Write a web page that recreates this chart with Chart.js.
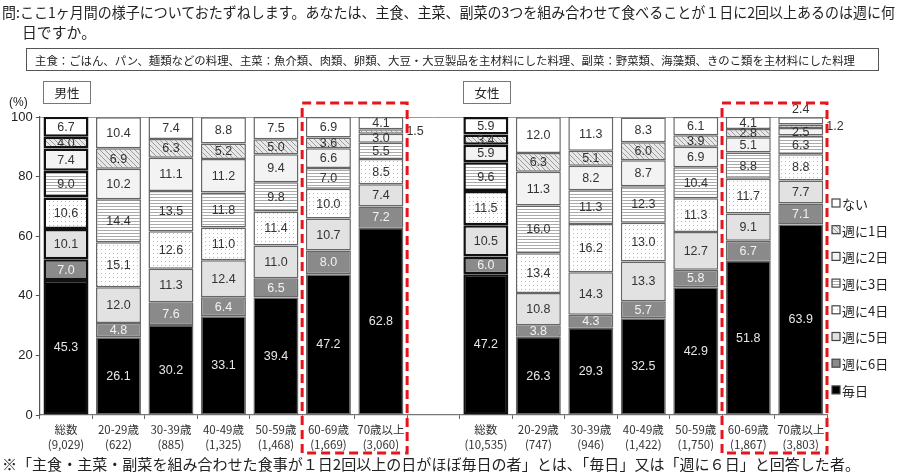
<!DOCTYPE html>
<html>
<head>
<meta charset="utf-8">
<script src="https://cdn.jsdelivr.net/npm/chart.js@4"></script>
<style>
  body { margin: 0; width: 900px; height: 475px; background: #fff; position: relative; overflow: hidden;
         font-family: "Noto Sans CJK JP", "Noto Sans", sans-serif; color: #222; }
  #chart { position: absolute; left: 0; top: 0; }
  .fit { position: absolute; white-space: nowrap; transform-origin: 0 0; }
  .q1 { left: 2px; top: 1px; font-size: 14.5px; }
  .q2 { left: 22px; top: 21px; font-size: 14.5px; }
  .note { position: absolute; left: 26px; top: 48px; width: 853px; height: 23px; border: 1px solid #555; box-sizing: border-box; }
  .note span { left: 8px; top: 3px; font-size: 11px; }
  .sex { position: absolute; top: 81px; width: 48px; height: 23px; border: 1px solid #777; box-sizing: border-box;
         font-size: 12.5px; text-align: center; line-height: 21px; }
  .pct { position: absolute; left: 9px; top: 95px; font-size: 12px; font-family: "Liberation Sans", sans-serif; }
  .foot { left: 2px; top: 453px; font-size: 15px; }
</style>
</head>
<body>
<canvas id="chart" width="900" height="475"></canvas>
<span class="fit q1" data-w="893">問:ここ1ヶ月間の様子についておたずねします。あなたは、主食、主菜、副菜の3つを組み合わせて食べることが１日に2回以上あるのは週に何</span>
<span class="fit q2" data-w="74">日ですか。</span>
<div class="note"><span class="fit" data-w="820">主食：ごはん、パン、麺類などの料理、主菜：魚介類、肉類、卵類、大豆・大豆製品を主材料にした料理、副菜：野菜類、海藻類、きのこ類を主材料にした料理</span></div>
<div class="sex" style="left:43px">男性</div>
<div class="sex" style="left:463px">女性</div>
<div class="pct">(%)</div>
<span class="fit foot" data-w="858">※「主食・主菜・副菜を組み合わせた食事が１日2回以上の日がほぼ毎日の者」とは、「毎日」又は「週に６日」と回答した者。</span>
<script>
// categories: male 7 groups, an empty gap slot, female 7 groups
const categories = [
  ['総数', '(9,029)'], ['20-29歳', '(622)'], ['30-39歳', '(885)'], ['40-49歳', '(1,325)'],
  ['50-59歳', '(1,468)'], ['60-69歳', '(1,669)'], ['70歳以上', '(3,060)'],
  '',
  ['総数', '(10,535)'], ['20-29歳', '(747)'], ['30-39歳', '(946)'], ['40-49歳', '(1,422)'],
  ['50-59歳', '(1,750)'], ['60-69歳', '(1,867)'], ['70歳以上', '(3,803)'],
];
const seriesNames = ['毎日', '週に6日', '週に5日', '週に4日', '週に3日', '週に2日', '週に1日', 'ない'];
const everyDay  = [45.3, 26.1, 30.2, 33.1, 39.4, 47.2, 62.8, null, 47.2, 26.3, 29.3, 32.5, 42.9, 51.8, 63.9];
const sixDays   = [7.0, 4.8, 7.6, 6.4, 6.5, 8.0, 7.2, null, 6.0, 3.8, 4.3, 5.7, 5.8, 6.7, 7.1];
const fiveDays  = [10.1, 12.0, 11.3, 12.4, 11.0, 10.7, 7.4, null, 10.5, 10.8, 14.3, 13.3, 12.7, 9.1, 7.7];
const fourDays  = [10.6, 15.1, 12.6, 11.0, 11.4, 10.0, 8.5, null, 11.5, 13.4, 16.2, 13.0, 11.3, 11.7, 8.8];
const threeDays = [9.0, 14.4, 13.5, 11.8, 9.8, 7.0, 5.5, null, 9.6, 16.0, 11.3, 12.3, 10.4, 8.8, 6.3];
const twoDays   = [7.4, 10.2, 11.1, 11.2, 9.4, 6.6, 3.0, null, 5.9, 11.3, 8.2, 8.7, 6.9, 5.1, 2.5];
const oneDay    = [4.0, 6.9, 6.3, 5.2, 5.0, 3.6, 1.5, null, 3.4, 6.3, 5.1, 6.0, 3.9, 2.8, 1.2];
const never     = [6.7, 10.4, 7.4, 8.8, 7.5, 6.9, 4.1, null, 5.9, 12.0, 11.3, 8.3, 6.1, 4.1, 2.4];
const yTicks = [0, 20, 40, 60, 80, 100];
const totalIdx = [0, 8];
const highlightGroups = [[5, 6], [13, 14]];

// fit header texts to their widths
document.querySelectorAll('.fit').forEach((el) => {
  const w = el.getBoundingClientRect().width;
  el.style.transform = `scaleX(${el.dataset.w / w})`;
});

function pattern(bg, size, draw) {
  const c = document.createElement('canvas');
  c.width = size; c.height = size;
  const g = c.getContext('2d');
  g.fillStyle = bg;
  g.fillRect(0, 0, size, size);
  draw(g);
  return g.createPattern(c, 'repeat');
}
const dots = pattern('#fff', 4, (g) => { g.fillStyle = '#b8b8b8'; g.fillRect(1, 1, 1, 1); });
const hLines = pattern('#fff', 3, (g) => { g.fillStyle = '#aaa'; g.fillRect(0, 2, 3, 1); });
const diag = pattern('#e8e8e8', 5, (g) => {
  g.strokeStyle = '#9a9a9a'; g.lineWidth = 1;
  g.beginPath(); g.moveTo(-1, -1); g.lineTo(6, 6); g.stroke();
});

const series = [everyDay, sixDays, fiveDays, fourDays, threeDays, twoDays, oneDay, never];
const fills = ['#000', '#8a8a8a', '#e2e2e2', dots, hLines, '#f3f3f3', diag, '#fff'];
const textColors = ['#e6e6e6', '#f2f2f2', '#333', '#333', '#333', '#333', '#333', '#333'];

const datasets = series.map((data, i) => ({
  label: seriesNames[i],
  data,
  backgroundColor: fills[i],
  borderColor: (c) => (totalIdx.includes(c.dataIndex) ? '#111' : '#666'),
  borderWidth: (c) => (totalIdx.includes(c.dataIndex) ? 2.5 : 1.5),
  borderSkipped: false,
  barPercentage: 0.857,
  categoryPercentage: 1,
}));

const valueLabels = {
  id: 'valueLabels',
  afterDatasetsDraw(chart) {
    const { ctx } = chart;
    ctx.save();
    ctx.font = '12.5px "Liberation Sans", Arial, sans-serif';
    ctx.textBaseline = 'middle';
    chart.data.datasets.forEach((ds, di) => {
      const meta = chart.getDatasetMeta(di);
      meta.data.forEach((bar, i) => {
        const v = ds.data[i];
        if (v == null) return;
        const { x, y, base, width } = bar.getProps(['x', 'y', 'base', 'width'], true);
        const txt = v.toFixed(1);
        if (v < 2) {
          ctx.fillStyle = '#333';
          ctx.textAlign = 'left';
          ctx.fillText(txt, x + width / 2 + 3, (y + base) / 2);
        } else if (di === series.length - 1 && v < 2.5) {
          ctx.fillStyle = '#333';
          ctx.textAlign = 'center';
          ctx.fillText(txt, x, y - 8);
        } else {
          ctx.fillStyle = textColors[di];
          ctx.textAlign = 'center';
          ctx.fillText(txt, x, (y + base) / 2 + 0.5);
        }
      });
    });
    ctx.restore();
  },
};

const extras = {
  id: 'extras',
  afterDraw(chart) {
    const { ctx, scales: { x, y }, chartArea } = chart;
    const half = (x.getPixelForValue(1) - x.getPixelForValue(0)) / 2;
    ctx.save();
    // red dashed boxes
    ctx.strokeStyle = '#e8141b';
    ctx.lineWidth = 3;
    ctx.setLineDash([9, 5]);
    highlightGroups.forEach(([a, b]) => {
      const l = x.getPixelForValue(a) - half;
      const r = x.getPixelForValue(b) + half;
      const t = y.getPixelForValue(100) - 14;
      const bt = chartArea.bottom + 38;
      ctx.strokeRect(l, t, r - l, bt - t);
    });
    ctx.setLineDash([]);
    // legend
    ctx.font = '13px "Noto Sans CJK JP", sans-serif';
    ctx.textBaseline = 'middle';
    ctx.textAlign = 'left';
    const lx = chartArea.right + 5;
    for (let k = 0; k < seriesNames.length; k++) {
      const di = seriesNames.length - 1 - k;
      const ly = 203 + k * 26.7;
      ctx.fillStyle = fills[di];
      ctx.fillRect(lx, ly - 4, 8, 8);
      ctx.strokeStyle = '#444';
      ctx.lineWidth = 1.2;
      ctx.strokeRect(lx, ly - 4, 8, 8);
      ctx.fillStyle = '#222';
      ctx.fillText(seriesNames[di], lx + 10, ly + 1);
    }
    ctx.restore();
  },
};

new Chart(document.getElementById('chart'), {
  type: 'bar',
  data: { labels: categories, datasets },
  options: {
    responsive: false,
    animation: false,
    layout: { padding: { top: 117, right: 73, bottom: 0, left: 0 } },
    plugins: { legend: { display: false }, tooltip: { enabled: false } },
    scales: {
      x: {
        stacked: true,
        afterFit(s) { s.height = 60; },
        grid: { offset: true, drawOnChartArea: false, tickLength: 4, tickColor: '#666', color: '#666' },
        border: { color: '#777', width: 1.2 },
        ticks: {
          color: '#333', autoSkip: false, maxRotation: 0, padding: 3,
          font: { size: 11.5, family: '"Noto Sans CJK JP", sans-serif', lineHeight: 1.3 },
        },
      },
      y: {
        stacked: true,
        min: 0,
        max: 100,
        afterFit(s) { s.width = 39.75; },
        afterBuildTicks(s) { s.ticks = yTicks.map((v) => ({ value: v })); },
        grid: {
          color: (c) => (c.tick && c.tick.value === 100 ? '#999' : 'rgba(0,0,0,0)'),
          tickColor: '#555',
          tickLength: 4,
        },
        border: { color: '#555', width: 1.2 },
        ticks: { color: '#222', padding: 3, font: { size: 13, family: '"Liberation Sans", Arial, sans-serif' } },
      },
    },
  },
  plugins: [valueLabels, extras],
});
</script>
</body>
</html>
